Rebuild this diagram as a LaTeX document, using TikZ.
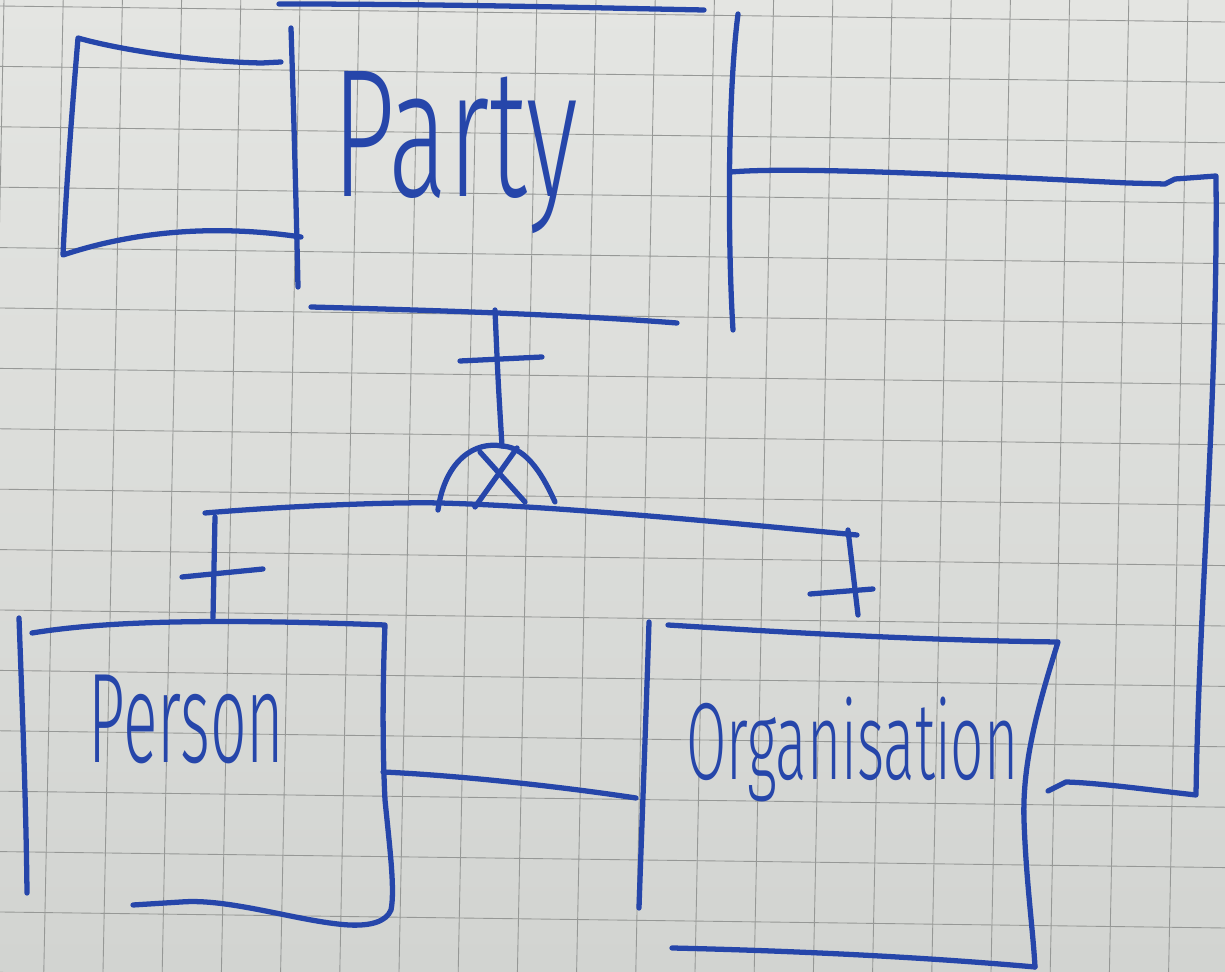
\documentclass[tikz,border=0pt]{standalone}
\usepackage{fontspec}
\usepackage{graphicx}
\IfFontExistsTF{Fira Sans Light}{\newfontfamily\hand{Fira Sans Light}}{\newfontfamily\hand{Liberation Sans}}
\definecolor{ink}{RGB}{38,70,170}
\definecolor{papertop}{RGB}{228,229,226}
\definecolor{paperbot}{RGB}{210,212,209}
\definecolor{gridc}{RGB}{150,152,150}
\begin{document}
\begin{tikzpicture}[x=0.02cm,y=-0.02cm,
  stroke/.style={draw=ink, line width=3pt, line cap=round, line join=round},
  gridline/.style={draw=gridc, line width=0.5pt},
  handtext/.style={text=ink, inner sep=0pt, font=\hand}]
% paper
\shade[top color=papertop, bottom color=paperbot] (0,0) rectangle (1225,972);
\path[use as bounding box] (0,0) rectangle (1225,972);
\begin{scope}
\clip (0,0) rectangle (1225,972);
\foreach \k in {-3,...,18} {
  \pgfmathsetmacro\xc{172+59.2*\k}
  \draw[gridline] (\xc+9.6,0) -- (\xc-9.8,972);
}
\foreach \k in {-1,...,17} {
  \pgfmathsetmacro\yc{12+60.4*\k}
  \draw[gridline] (0,\yc-6) -- (1225,\yc+10);
}
\end{scope}

% texts
\node[handtext, anchor=base west] (party) at (332,197) {\resizebox{4.92cm}{2.5cm}{Party}};
\node[handtext, anchor=base west] (person) at (88,763) {\resizebox{3.92cm}{1.75cm}{Person}};
\node[handtext, anchor=base west] (organisation) at (686,780) {\resizebox{6.64cm}{1.65cm}{Organisation}};

% named points
\coordinate (pB) at (495,310);
\coordinate (hub) at (502,446);
\coordinate (arcL) at (438,510);
\coordinate (arcR) at (555,502);
\coordinate (jL) at (205,513);
\coordinate (jM) at (440,503);
\coordinate (jR) at (857,535);
\coordinate (perT) at (213,618);
\coordinate (orgT) at (858,615);
\coordinate (partyR) at (731,172);
\coordinate (orgR) at (1048,791);
\coordinate (perR) at (383,772);
\coordinate (orgL) at (636,798);

% Party box
\draw[stroke] (279,4) .. controls (450,4) and (600,8) .. (704,10);
\draw[stroke] (291,28) .. controls (294,120) and (296,200) .. (298,287);
\draw[stroke] (311,307) .. controls (420,310) and (560,314) .. (677,323);
\draw[stroke] (738,14) .. controls (727,100) and (728,250) .. (733,330);

% recursive loop on the left of Party
\draw[stroke] (281,62) -- (262,63) .. controls (200,62) and (120,50) .. (78,38)
  .. controls (72,110) and (66,190) .. (63,255)
  .. controls (120,236) and (200,222) .. (301,237);

% loop from Party to Organisation
\draw[stroke] (partyR) .. controls (800,166) and (1000,177) .. (1128,183) -- (1165,184)
  -- (1175,179) -- (1216,176) .. controls (1218,400) and (1199,600) .. (1196,795)
  .. controls (1150,790) and (1100,783) .. (1066,782) -- (orgR);

% Organisation box
\draw[stroke] (649,622) .. controls (646,720) and (642,820) .. (639,908);
\draw[stroke] (668,625) .. controls (750,630) and (900,640) .. (1058,642)
  .. controls (1040,700) and (1022,760) .. (1024,820)
  .. controls (1026,880) and (1033,930) .. (1035,967);
\draw[stroke] (672,948) .. controls (760,950) and (900,955) .. (1035,967);

% Person box
\draw[stroke] (19,618) .. controls (22,700) and (26,800) .. (27,893);
\draw[stroke] (32,633) .. controls (100,622) and (200,618) .. (385,625)
  .. controls (382,700) and (383,760) .. (385,800)
  .. controls (390,850) and (395,890) .. (391,910)
  .. controls (386,922) and (370,926) .. (349,925)
  .. controls (300,922) and (230,898) .. (181,902) -- (133,905);

% Person -- Organisation
\draw[stroke] (perR) .. controls (450,775) and (550,785) .. (orgL);

% subtype connector
\draw[stroke] (pB) .. controls (498,380) .. (hub);
\draw[stroke] (460,361) -- (542,357);
\draw[stroke] (arcL) .. controls (445,460) and (475,441) .. (hub)
  .. controls (528,447) and (545,480) .. (arcR);
\draw[stroke] (480,452) -- (525,502);
\draw[stroke] (517,448) -- (475,507);
\draw[stroke] (jL) .. controls (300,505) and (400,502) .. (jM)
  .. controls (550,506) and (700,520) .. (jR);
\draw[stroke] (215,517) -- (perT);
\draw[stroke] (182,577) -- (263,569);
\draw[stroke] (848,530) -- (orgT);
\draw[stroke] (810,594) -- (873,589);
\end{tikzpicture}
\end{document}
